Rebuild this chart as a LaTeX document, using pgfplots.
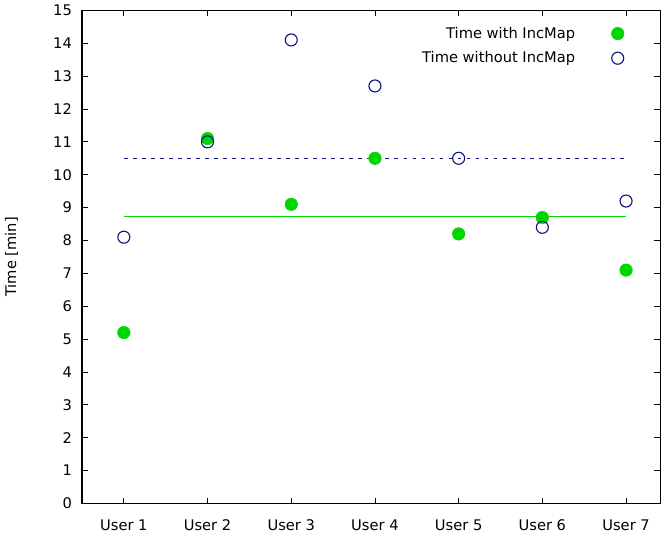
\documentclass[border=0pt]{standalone}
\usepackage{pgfplots}
\pgfplotsset{compat=1.18}
\usepackage{fontspec}
\setmainfont{DejaVu Sans}
\definecolor{ggreen}{RGB}{0,214,0}
\definecolor{gnavy}{RGB}{20,20,130}
\begin{document}
\fontsize{11.7}{14}\selectfont
\begin{tikzpicture}
\begin{axis}[
  scale only axis,
  width=461.6pt, height=393.6pt,
  xmin=0.5, xmax=7.41, ymin=0, ymax=15,
  xtick={1,2,3,4,5,6,7},
  xticklabels={User 1,User 2,User 3,User 4,User 5,User 6,User 7},
  ytick={0,1,...,15},
  tick align=inside, tick pos=both,
  major tick length=4.8pt,
  axis line style={line width=1pt},
  tick style={line width=0.7pt, black},
  /pgf/number format/assume math mode=true,
  tick label style={font=\fontsize{11.7}{14}\selectfont},
  xticklabel style={yshift=-9pt},
  yticklabel style={xshift=-4pt},
  ylabel={Time [min]},
  every axis y label/.style={at={(axis description cs:-0.122,0.5)}, rotate=90, anchor=center, font=\fontsize{11.7}{14}\selectfont},
  legend plot pos=right,
  legend cell align=right,
  legend style={draw=none, fill=none, at={(0.944,0.977)}, anchor=north east,
    font=\fontsize{11.7}{14}\selectfont, row sep=5pt, column sep=27pt},
]
\addplot[only marks, mark=*, mark size=5pt, mark options={fill=ggreen, draw=ggreen}] coordinates {
 (1,5.2) (2,11.1) (3,9.1) (4,10.5) (5,8.2) (6,8.7) (7,7.1)};
\addlegendentry{Time with IncMap}
\addplot[only marks, mark=o, mark size=4.8pt, mark options={draw=gnavy, line width=0.9pt}] coordinates {
 (1,8.1) (2,11.0) (3,14.1) (4,12.7) (5,10.5) (6,8.4) (7,9.2)};
\addlegendentry{Time without IncMap}
\addplot[forget plot, color=ggreen, mark=none, line width=1pt] coordinates {(1,8.72) (7,8.72)};
\addplot[forget plot, color=gnavy, mark=none, line width=1pt, dash pattern=on 3pt off 4.2pt] coordinates {(1,10.5) (7,10.5)};
\end{axis}
\end{tikzpicture}
\end{document}
